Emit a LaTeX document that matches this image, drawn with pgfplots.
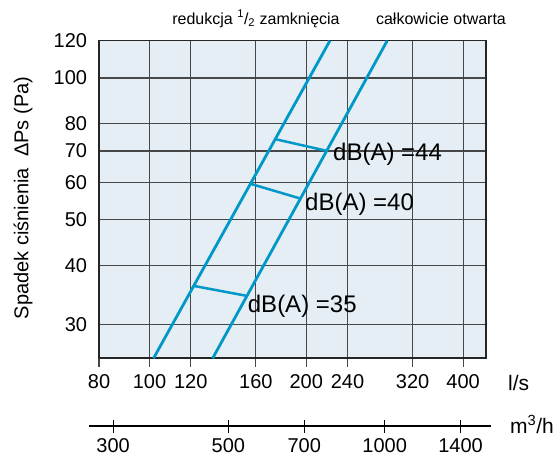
\documentclass[border=0pt]{standalone}
\usepackage{pgfplots}
\pgfplotsset{compat=1.18}
\usepackage{fontspec}
\setmainfont{Liberation Sans}
\definecolor{bgc}{RGB}{229,238,244}
\definecolor{lnc}{RGB}{0,152,200}
\begin{document}
\begin{tikzpicture}
\useasboundingbox (0,0) rectangle (558bp,-459bp);
\begin{axis}[
 at={(99bp,-358.3bp)}, anchor=south west,
 scale only axis, width=386.7bp, height=317.6bp,
 xmode=log, ymode=log,
 xmin=80, xmax=442, ymin=25.4, ymax=120,
 xtick={80,100,120,160,200,240,320,400},
 xticklabels={80,100,120,160,200,240,320,400},
 ytick={30,40,50,60,70,80,100,120},
 yticklabels={30,40,50,60,70,80,100,120},
 minor xtick={}, minor ytick={},
 grid=major, grid style={black!72, line width=1.1bp},
 axis background/.style={fill=bgc},
 axis line style={black!85, line width=1.6bp},
 xtick pos=bottom, ytick pos=left, tick align=outside,
 major tick length=8.5bp,
 x tick style={black!72, line width=1.1bp},
 y tick style={draw=none},
 tick label style={font=\fontsize{20bp}{24bp}\selectfont},
 xticklabel style={yshift=-4bp},
 /pgf/number format/assume math mode=true,
]
\addplot[lnc, line width=2.8bp] coordinates {(101.8,25.4) (222.0,120)};
\addplot[lnc, line width=2.8bp] coordinates {(132.2,25.4) (286.0,120)};
\addplot[lnc, line width=2.5bp] coordinates {(174.9,74.1) (218.1,70.1)};
\addplot[lnc, line width=2.5bp] coordinates {(156.4,59.6) (194.5,55.5)};
\addplot[lnc, line width=2.5bp] coordinates {(121.4,36.2) (153.0,34.5)};
\end{axis}
\begin{axis}[
 at={(89.3bp,-426bp)}, anchor=south west,
 scale only axis, width=401.4bp, height=5bp,
 xmode=log, xmin=270, xmax=1600, ymin=0, ymax=1,
 hide y axis, axis x line=bottom,
 x axis line style={-, black, line width=1.6bp},
 xtick={300,500,700,1000,1400},
 xticklabels={300,500,700,1000,1400},
 minor xtick={},
 tick align=center, major tick length=13bp,
 x tick style={black, line width=1bp},
 tick label style={font=\fontsize{20bp}{24bp}\selectfont},
 xticklabel style={yshift=-5bp, inner ysep=1bp},
 /pgf/number format/assume math mode=true,
]
\addplot[draw=none] coordinates {(300,0.5)};
\end{axis}
\node[rotate=90, font=\fontsize{20bp}{24bp}\selectfont] at (23bp,-198bp) {Spadek ciśnienia\ \ ΔPs (Pa)};
\node[font=\fontsize{16bp}{19bp}\selectfont, anchor=base] at (256bp,-24bp) {redukcja \textsuperscript{1}/\textsubscript{2} zamknięcia};
\node[font=\fontsize{16bp}{19bp}\selectfont, anchor=base] at (441bp,-24bp) {całkowicie otwarta};
\node[font=\fontsize{24bp}{28bp}\selectfont, anchor=west, inner sep=0pt] at (333bp,-154bp) {dB(A) =44};
\node[font=\fontsize{24bp}{28bp}\selectfont, anchor=west, inner sep=0pt] at (305bp,-204.5bp) {dB(A) =40};
\node[font=\fontsize{24bp}{28bp}\selectfont, anchor=west, inner sep=0pt] at (247.7bp,-306.7bp) {dB(A) =35};
\node[font=\fontsize{21bp}{24bp}\selectfont, anchor=west, inner sep=0pt] at (508bp,-383bp) {l/s};
\node[font=\fontsize{21bp}{24bp}\selectfont, anchor=base west, inner sep=0pt] at (510bp,-433bp) {m\textsuperscript{3}/h};
\end{tikzpicture}
\end{document}
